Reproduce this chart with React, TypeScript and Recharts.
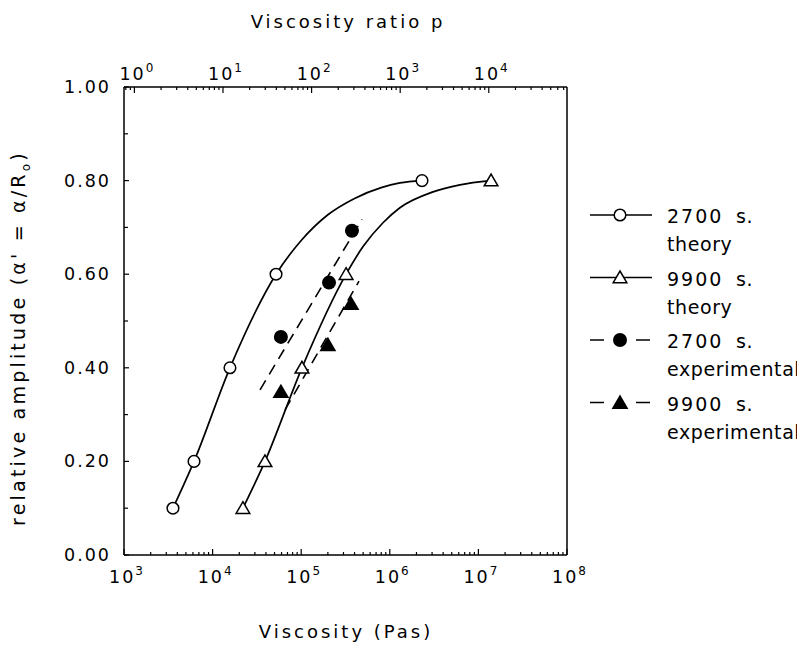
import React from 'react';
import {
  ComposedChart,
  Line,
  Scatter,
  XAxis,
  YAxis,
  ReferenceLine,
} from 'recharts';

// viscosity (Pas) vs relative amplitude
const theory2700Marks = [
  { x: 3570, y: 0.1 },
  { x: 6170, y: 0.2 },
  { x: 15700, y: 0.4 },
  { x: 52000, y: 0.6 },
  { x: 2310000, y: 0.8 },
];
const theory2700Curve = [
  { x: 3570, y: 0.1 },
  { x: 6170, y: 0.2 },
  { x: 15700, y: 0.4 },
  { x: 52000, y: 0.6 },
  { x: 100000, y: 0.672 },
  { x: 200000, y: 0.727 },
  { x: 400000, y: 0.762 },
  { x: 800000, y: 0.785 },
  { x: 1300000, y: 0.795 },
  { x: 2310000, y: 0.8 },
];
const theory9900Marks = [
  { x: 22000, y: 0.1 },
  { x: 39000, y: 0.2 },
  { x: 102000, y: 0.4 },
  { x: 321000, y: 0.6 },
  { x: 13900000, y: 0.8 },
];
const theory9900Curve = [
  { x: 22000, y: 0.1 },
  { x: 39000, y: 0.2 },
  { x: 102000, y: 0.4 },
  { x: 321000, y: 0.6 },
  { x: 499000, y: 0.659 },
  { x: 838000, y: 0.71 },
  { x: 1300000, y: 0.742 },
  { x: 3080000, y: 0.776 },
  { x: 6190000, y: 0.791 },
  { x: 13900000, y: 0.8 },
];
const exp2700 = [
  { x: 59000, y: 0.466 },
  { x: 206000, y: 0.582 },
  { x: 374000, y: 0.693 },
];
const exp2700Fit = [
  { x: 34300, y: 0.353 },
  { x: 485000, y: 0.717 },
];
const exp9900 = [
  { x: 59000, y: 0.349 },
  { x: 200000, y: 0.449 },
  { x: 365000, y: 0.537 },
];
const exp9900Fit = [
  { x: 65600, y: 0.31 },
  { x: 449000, y: 0.585 },
];

const viscDecades = [3, 4, 5, 6, 7, 8];
const ratioDecades = [-1, 0, 1, 2, 3, 4];
const ratioShift = 1310; // p = viscosity / 1310
const yTicks = [0, 0.1, 0.2, 0.3, 0.4, 0.5, 0.6, 0.7, 0.8, 0.9, 1.0];
const yLabelled = [0, 0.2, 0.4, 0.6, 0.8, 1.0];

const viscDomain = [1e3, 1e8];
const ratioDomain = [1e3 / ratioShift, 1e8 / ratioShift];

function logTicks(decades: number[], lo: number, hi: number) {
  const out: number[] = [];
  decades.forEach((d) => {
    for (let m = 1; m <= 9; m++) {
      const v = m * Math.pow(10, d);
      if (v >= lo * 0.9999 && v <= hi * 1.0001) out.push(v);
    }
  });
  return out;
}

const FONT = '"DejaVu Sans", Verdana, sans-serif';
const txt = { fontFamily: FONT, fill: '#000', letterSpacing: 2 };
const title = { ...txt, fontSize: 18, letterSpacing: 3 };

function isMajor(v: number) {
  const e = Math.log10(v);
  return Math.abs(e - Math.round(e)) < 1e-6;
}

function PowLabel({ x, y, v }: { x: number; y: number; v: number }) {
  const e = Math.round(Math.log10(v));
  return (
    <text x={x + 3} y={y} textAnchor="middle" style={{ ...txt, fontSize: 17.5 }}>
      10
      <tspan dy={-8} fontSize={12}>
        {e}
      </tspan>
    </text>
  );
}

function BottomTick(props: any) {
  const { x, y, payload } = props;
  const major = isMajor(payload.value);
  return (
    <g>
      <line x1={x} y1={y} x2={x} y2={y - (major ? 6 : 3)} stroke="#000" strokeWidth={1.2} />
      {major && <PowLabel x={x} y={y + 28} v={payload.value} />}
    </g>
  );
}

function TopTick(props: any) {
  const { x, y, payload } = props;
  const major = isMajor(payload.value);
  return (
    <g>
      <line x1={x} y1={y} x2={x} y2={y + (major ? 6 : 3)} stroke="#000" strokeWidth={1.2} />
      {major && <PowLabel x={x} y={y - 7} v={payload.value} />}
    </g>
  );
}

function LeftTick(props: any) {
  const { x, y, payload } = props;
  const lab = yLabelled.some((v) => Math.abs(v - payload.value) < 1e-6);
  return (
    <g>
      <line x1={x} y1={y} x2={x + (lab ? 5 : 4)} y2={y} stroke="#000" strokeWidth={1.2} />
      {lab && (
        <text x={x - 13} y={y + 6} textAnchor="end" style={{ ...txt, fontSize: 17.5 }}>
          {payload.value.toFixed(2)}
        </text>
      )}
    </g>
  );
}

function OpenCircle(p: any) {
  return <circle cx={p.cx} cy={p.cy} r={5.8} fill="#fff" stroke="#000" strokeWidth={1.5} />;
}
function FilledCircle(p: any) {
  return <circle cx={p.cx} cy={p.cy} r={7} fill="#000" />;
}
function tri(cx: number, cy: number, s: number) {
  return `${cx},${cy - s} ${cx + s * 1.05},${cy + s * 0.8} ${cx - s * 1.05},${cy + s * 0.8}`;
}
function OpenTriangle(p: any) {
  return <polygon points={tri(p.cx, p.cy, 6.5)} fill="#fff" stroke="#000" strokeWidth={1.5} />;
}
function FilledTriangle(p: any) {
  return <polygon points={tri(p.cx, p.cy, 8)} fill="#000" />;
}

const legendRows = [
  { a: '2700', b: 'theory', dash: false, mark: 'oc' },
  { a: '9900', b: 'theory', dash: false, mark: 'ot' },
  { a: '2700', b: 'experimental', dash: true, mark: 'fc' },
  { a: '9900', b: 'experimental', dash: true, mark: 'ft' },
];

function LegendBox() {
  const lt = { ...txt, fontSize: 19, letterSpacing: 0.6 };
  return (
    <g transform="translate(574, 180)">
      {legendRows.map((r, i) => {
        const cy = 27 + i * 62.5;
        return (
          <g key={i}>
            {r.dash ? (
              <g stroke="#000" strokeWidth={1.5}>
                <line x1={8} y1={cy} x2={22} y2={cy} />
                <line x1={54} y1={cy} x2={68} y2={cy} />
              </g>
            ) : (
              <line x1={8} y1={cy} x2={70} y2={cy} stroke="#000" strokeWidth={1.5} />
            )}
            {r.mark === 'oc' && <OpenCircle cx={38} cy={cy} />}
            {r.mark === 'ot' && <OpenTriangle cx={38} cy={cy} />}
            {r.mark === 'fc' && <FilledCircle cx={38} cy={cy} />}
            {r.mark === 'ft' && <FilledTriangle cx={38} cy={cy} />}
            <text x={85} y={cy + 8} style={{ ...lt, letterSpacing: 2 }}>
              {r.a}
            </text>
            <text x={154} y={cy + 8} style={lt}>
              s.
            </text>
            <text x={85} y={cy + 36} style={lt}>
              {r.b}
            </text>
          </g>
        );
      })}
    </g>
  );
}

export default function App() {
  return (
    <div style={{ position: 'relative', width: 797, height: 642 }}>
      <ComposedChart
        width={797}
        height={642}
        margin={{ top: 49, right: 238, bottom: 65, left: 56 }}
      >
        <XAxis
          dataKey="x"
          type="number"
          scale="log"
          domain={viscDomain}
          allowDataOverflow
          ticks={logTicks(viscDecades, viscDomain[0], viscDomain[1])}
          interval={0}
          tickSize={0}
          tickMargin={0}
          height={30}
          axisLine={{ stroke: '#000', strokeWidth: 1.5 }}
          tick={<BottomTick />}
        />
        <XAxis
          xAxisId="top"
          orientation="top"
          dataKey="x"
          type="number"
          scale="log"
          domain={ratioDomain}
          allowDataOverflow
          ticks={logTicks(ratioDecades, ratioDomain[0], ratioDomain[1])}
          interval={0}
          tickSize={0}
          tickMargin={0}
          height={30}
          axisLine={{ stroke: '#000', strokeWidth: 1.5 }}
          tick={<TopTick />}
        />
        <YAxis
          dataKey="y"
          type="number"
          domain={[0, 1]}
          ticks={yTicks}
          interval={0}
          tickSize={0}
          tickMargin={0}
          width={60}
          axisLine={{ stroke: '#000', strokeWidth: 1.5 }}
          tick={<LeftTick />}
        />
        <ReferenceLine x={1e8} stroke="#000" strokeWidth={1.5} />

        <Line data={theory2700Curve} dataKey="y" type="monotone" stroke="#000" strokeWidth={1.7} dot={false} isAnimationActive={false} />
        <Line data={theory9900Curve} dataKey="y" type="monotone" stroke="#000" strokeWidth={1.7} dot={false} isAnimationActive={false} />
        <Line data={exp2700Fit} dataKey="y" type="linear" stroke="#000" strokeWidth={1.6} strokeDasharray="11 7" dot={false} isAnimationActive={false} />
        <Line data={exp9900Fit} dataKey="y" type="linear" stroke="#000" strokeWidth={1.6} strokeDasharray="11 7" dot={false} isAnimationActive={false} />

        <Scatter data={theory2700Marks} dataKey="y" shape={<OpenCircle />} isAnimationActive={false} />
        <Scatter data={theory9900Marks} dataKey="y" shape={<OpenTriangle />} isAnimationActive={false} />
        <Scatter data={exp2700} dataKey="y" shape={<FilledCircle />} isAnimationActive={false} />
        <Scatter data={exp9900} dataKey="y" shape={<FilledTriangle />} isAnimationActive={false} />
      </ComposedChart>

      <div
        style={{
          position: 'absolute',
          left: 0,
          top: 0,
          width: 797,
          height: 642,
          pointerEvents: 'none',
        }}
      >
        <svg width={797} height={642}>
          <text x={340} y={20} textAnchor="middle" style={title}>
            Viscosity ratio p
          </text>
          <text x={338} y={630} textAnchor="middle" style={title}>
            Viscosity (Pas)
          </text>
          <text
            x={0}
            y={0}
            transform="translate(17, 330) rotate(-90)"
            textAnchor="middle"
            style={{ ...txt, fontSize: 19, letterSpacing: 3.2 }}
          >
            relative amplitude (α' = α/R
            <tspan dy={5} fontSize={12}>o</tspan>
            <tspan dy={-5}>)</tspan>
          </text>
          <LegendBox />
        </svg>
      </div>
    </div>
  );
}
